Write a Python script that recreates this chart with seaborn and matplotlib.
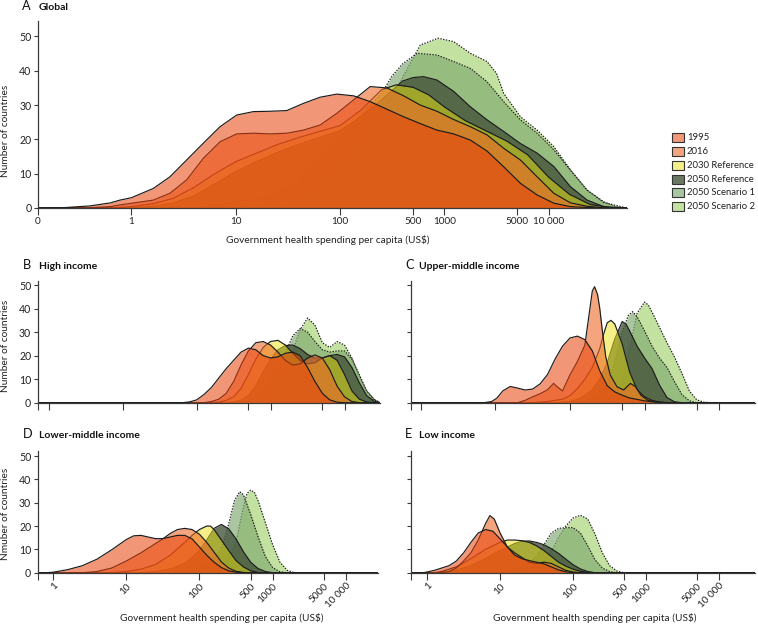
import numpy as np
import pandas as pd
import matplotlib
matplotlib.use("Agg")
import matplotlib.pyplot as plt
from matplotlib.patches import Rectangle
import matplotlib.ticker as mticker
import seaborn as sns

sns.set_theme(style="ticks")
plt.rcParams['font.family'] = ['Lato', 'DejaVu Sans']

# ---------------- data: (log10 spending per capita, number of countries) ----------------
SERIES = ["1995", "2016", "2030 Reference", "2050 Reference", "2050 Scenario 1", "2050 Scenario 2"]

A_1995 = [(-0.9, 0), (-0.7, 0), (-0.6, 0.2), (-0.4, 0.6), (-0.2, 1.5), (-0.11, 2.3), (0.0, 3.0), (0.21, 5.7),
          (0.37, 9.1), (0.53, 14.0), (0.69, 18.9), (0.85, 23.7), (1.01, 27.1), (1.17, 28.1), (1.33, 28.2),
          (1.49, 28.4), (1.65, 30.5), (1.81, 32.3), (1.97, 33.2), (2.13, 32.7), (2.29, 31.0), (2.45, 28.8),
          (2.61, 26.6), (2.77, 24.6), (2.93, 22.7), (3.09, 21.6), (3.25, 19.8), (3.41, 16.6), (3.57, 12.0),
          (3.73, 7.2), (3.89, 3.8), (4.05, 1.4), (4.21, 0.4), (4.4, 0.1), (4.6, 0), (4.75, 0)]
A_2016 = [(-0.9, 0), (-0.5, 0), (-0.4, 0.1), (-0.2, 0.4), (-0.11, 0.9), (0.21, 2.3), (0.37, 4.3), (0.53, 8.2),
          (0.69, 14.5), (0.85, 19.3), (1.01, 21.6), (1.17, 21.8), (1.33, 21.6), (1.49, 21.8), (1.65, 22.7),
          (1.81, 24.2), (1.97, 27.6), (2.13, 31.5), (2.29, 35.4), (2.45, 35.0), (2.61, 32.7), (2.77, 30.0),
          (2.93, 28.2), (3.09, 25.8), (3.25, 23.7), (3.41, 21.3), (3.57, 17.4), (3.73, 14.0), (3.89, 9.1),
          (4.05, 4.3), (4.21, 1.5), (4.37, 0.5), (4.55, 0), (4.75, 0)]
A_2030 = [(-0.9, 0), (-0.2, 0), (0.0, 0.4), (0.2, 1.2), (0.4, 2.8), (0.6, 6.0), (0.8, 10.0), (1.0, 13.5), (1.2, 16.0),
          (1.4, 18.5), (1.6, 20.5), (1.8, 22.3), (2.0, 24.0), (2.2, 28.5), (2.4, 34.5), (2.54, 35.9), (2.7, 35.2),
          (2.85, 33.0), (3.0, 29.5), (3.2, 25.5), (3.4, 22.5), (3.6, 19.5), (3.8, 15.5), (4.0, 9.0), (4.2, 4.0),
          (4.4, 1.0), (4.6, 0.1), (4.75, 0)]
A_2050 = [(-0.9, 0), (0.0, 0), (0.2, 0.5), (0.4, 1.5), (0.6, 3.5), (0.8, 7.0), (1.0, 10.6), (1.2, 13.5), (1.4, 16.2),
          (1.6, 18.5), (1.8, 20.5), (2.0, 22.5), (2.2, 26.5), (2.4, 31.5), (2.6, 37.0), (2.7, 38.0), (2.8, 38.3),
          (2.93, 37.3), (3.09, 34.0), (3.25, 29.5), (3.41, 25.7), (3.57, 22.3), (3.73, 18.8), (3.89, 16.0),
          (4.05, 12.1), (4.21, 6.2), (4.37, 2.3), (4.53, 0.4), (4.75, 0)]
A_S1 = [(-0.9, 0), (0.4, 0), (0.6, 0.2), (0.8, 0.8), (1.0, 1.8), (1.2, 2.8), (1.4, 4.3), (1.6, 7.5), (1.8, 14.0),
        (2.0, 20.8), (2.2, 27.0), (2.4, 33.5), (2.5, 38.5), (2.6, 42.0), (2.74, 45.1), (2.93, 44.6), (3.09, 42.7),
        (3.25, 40.7), (3.41, 36.8), (3.57, 31.0), (3.73, 25.7), (3.89, 21.8), (4.05, 17.0), (4.21, 11.0),
        (4.37, 5.2), (4.53, 1.6), (4.75, 0)]
A_S2 = [(-0.9, 0), (0.8, 0), (1.0, 0.3), (1.2, 0.8), (1.4, 1.6), (1.6, 3.2), (1.8, 6.2), (2.0, 12.0), (2.2, 20.0),
        (2.4, 27.0), (2.6, 38.0), (2.77, 47.5), (2.94, 49.5), (3.09, 48.5), (3.25, 45.1), (3.41, 42.7),
        (3.5, 39.3), (3.57, 33.4), (3.73, 26.6), (3.89, 22.7), (4.05, 17.9), (4.21, 11.1), (4.37, 5.2),
        (4.53, 1.8), (4.65, 0.3), (4.75, 0)]

B_1995 = [(-0.15, 0), (1.8, 0), (1.9, 0.3), (2.0, 1.2), (2.1, 3.5), (2.2, 6.5), (2.3, 10.5), (2.4, 14.5), (2.5, 18.0),
          (2.6, 21.5), (2.7, 23.2), (2.8, 22.5), (2.9, 20.0), (3.0, 19.0), (3.1, 19.5), (3.2, 21.0), (3.3, 21.5),
          (3.4, 20.0), (3.5, 15.0), (3.6, 9.0), (3.7, 4.0), (3.8, 1.2), (3.9, 0.2), (4.0, 0), (4.48, 0)]
B_2016 = [(-0.15, 0), (2.1, 0), (2.2, 0.5), (2.3, 1.5), (2.4, 4.0), (2.5, 9.0), (2.6, 16.0), (2.7, 22.0), (2.8, 25.5),
          (2.9, 26.0), (3.0, 24.5), (3.1, 21.5), (3.2, 18.0), (3.3, 16.0), (3.4, 16.5), (3.5, 19.0), (3.6, 20.3),
          (3.7, 19.0), (3.8, 14.0), (3.9, 7.0), (4.0, 2.5), (4.1, 0.5), (4.2, 0), (4.48, 0)]
B_2030 = [(-0.15, 0), (2.2, 0), (2.3, 0.2), (2.4, 1.0), (2.5, 2.5), (2.6, 6.0), (2.7, 12.0), (2.8, 18.5), (2.9, 23.5),
          (3.0, 26.0), (3.1, 26.5), (3.2, 24.5), (3.3, 21.0), (3.4, 18.0), (3.5, 16.5), (3.6, 17.0), (3.7, 19.0),
          (3.8, 20.0), (3.9, 18.0), (4.0, 12.0), (4.1, 5.0), (4.2, 1.5), (4.3, 0.3), (4.4, 0), (4.48, 0)]
B_2050 = [(-0.15, 0), (2.4, 0), (2.5, 0.3), (2.6, 1.0), (2.7, 3.0), (2.8, 7.0), (2.9, 13.0), (3.0, 18.5), (3.1, 22.5),
          (3.2, 24.3), (3.3, 24.5), (3.4, 23.0), (3.5, 20.5), (3.6, 19.0), (3.7, 19.0), (3.8, 20.0), (3.9, 20.5),
          (4.0, 19.5), (4.1, 15.0), (4.2, 8.5), (4.3, 3.0), (4.4, 0.6), (4.48, 0)]
B_S1 = [(-0.15, 0), (2.5, 0), (2.6, 0.3), (2.7, 1.0), (2.8, 3.0), (2.9, 6.0), (3.0, 10.0), (3.1, 15.0), (3.2, 21.0),
        (3.3, 28.5), (3.4, 31.5), (3.5, 30.0), (3.6, 26.0), (3.7, 22.5), (3.8, 21.5), (3.9, 22.0), (4.0, 22.0),
        (4.1, 18.5), (4.2, 12.0), (4.3, 5.0), (4.4, 1.2), (4.48, 0)]
B_S2 = [(-0.15, 0), (2.6, 0), (2.7, 0.2), (2.8, 1.0), (2.9, 2.5), (3.0, 5.0), (3.1, 9.0), (3.2, 14.0), (3.3, 22.0),
        (3.4, 31.0), (3.5, 36.0), (3.6, 33.0), (3.7, 25.5), (3.8, 23.5), (3.9, 26.0), (4.0, 24.5), (4.1, 19.0),
        (4.2, 11.0), (4.3, 5.0), (4.4, 1.5), (4.48, 0)]

C_1995 = [(-0.13, 0), (0.85, 0), (0.95, 0.5), (1.02, 1.9), (1.1, 5.0), (1.2, 6.9), (1.3, 6.2), (1.4, 5.4), (1.5, 5.8),
          (1.6, 8.0), (1.7, 12.0), (1.8, 18.5), (1.9, 24.0), (2.0, 27.5), (2.1, 28.3), (2.2, 26.8), (2.3, 22.0),
          (2.4, 13.5), (2.5, 7.2), (2.6, 4.6), (2.7, 3.2), (2.8, 2.0), (2.9, 1.4), (3.0, 0.8), (3.1, 0.4),
          (3.2, 0.1), (3.3, 0), (4.48, 0)]
C_2016 = [(-0.13, 0), (1.3, 0), (1.4, 1.0), (1.5, 2.5), (1.6, 3.8), (1.7, 5.5), (1.78, 8.2), (1.84, 6.5), (1.9, 5.0),
          (2.0, 11.8), (2.1, 17.5), (2.2, 24.5), (2.25, 36.0), (2.3, 47.5), (2.33, 49.3), (2.37, 46.0), (2.4, 40.0),
          (2.44, 29.0), (2.48, 19.5), (2.54, 11.8), (2.63, 6.8), (2.72, 5.4), (2.81, 8.2), (2.88, 6.8), (2.95, 3.2),
          (3.04, 1.1), (3.15, 0.3), (3.3, 0), (4.48, 0)]
C_2030 = [(-0.13, 0), (1.5, 0), (1.7, 0.5), (1.9, 1.5), (2.0, 3.0), (2.1, 6.0), (2.2, 10.0), (2.3, 15.0), (2.4, 23.0),
          (2.45, 29.0), (2.5, 34.0), (2.55, 35.0), (2.6, 33.5), (2.7, 25.0), (2.8, 13.0), (2.9, 5.5), (3.0, 2.5),
          (3.1, 1.0), (3.2, 0.3), (3.3, 0), (4.48, 0)]
C_2050 = [(-0.13, 0), (1.8, 0), (2.0, 0.5), (2.1, 1.5), (2.2, 3.0), (2.3, 5.5), (2.4, 10.0), (2.5, 17.0), (2.6, 27.0),
          (2.7, 34.5), (2.75, 33.5), (2.8, 30.5), (2.9, 24.0), (3.0, 19.0), (3.1, 14.5), (3.2, 7.5), (3.3, 2.2),
          (3.4, 0.4), (3.5, 0), (4.48, 0)]
C_S1 = [(-0.13, 0), (2.0, 0), (2.2, 0.5), (2.4, 3.0), (2.5, 8.0), (2.6, 17.0), (2.7, 30.0), (2.78, 37.0), (2.84, 38.7),
        (2.9, 36.5), (3.0, 30.5), (3.1, 24.0), (3.2, 19.0), (3.3, 15.0), (3.4, 9.0), (3.5, 3.5), (3.6, 0.8),
        (3.7, 0), (4.48, 0)]
C_S2 = [(-0.13, 0), (2.2, 0), (2.4, 0.5), (2.6, 3.5), (2.7, 9.0), (2.8, 23.0), (2.9, 38.0), (3.0, 42.8), (3.05, 41.5),
        (3.1, 38.5), (3.2, 32.0), (3.3, 25.5), (3.4, 19.5), (3.5, 12.5), (3.6, 5.0), (3.7, 1.2), (3.8, 0.2),
        (3.9, 0), (4.48, 0)]

D_1995 = [(-0.21, 0), (-0.1, 0), (0.0, 0.2), (0.2, 1.3), (0.4, 3.0), (0.6, 5.8), (0.8, 9.8), (1.0, 14.2), (1.1, 15.8),
          (1.2, 16.0), (1.3, 15.3), (1.4, 14.6), (1.5, 14.6), (1.6, 15.3), (1.7, 16.0), (1.8, 16.0), (1.9, 14.5),
          (2.0, 11.0), (2.1, 7.5), (2.2, 4.5), (2.3, 2.2), (2.4, 0.8), (2.5, 0.2), (2.6, 0), (4.44, 0)]
D_2016 = [(-0.21, 0), (0.4, 0), (0.6, 0.5), (0.8, 2.0), (1.0, 5.0), (1.2, 8.5), (1.4, 12.5), (1.5, 14.5), (1.6, 16.8),
          (1.7, 18.5), (1.8, 19.0), (1.9, 18.5), (2.0, 16.5), (2.1, 13.0), (2.2, 8.8), (2.3, 4.6), (2.4, 2.0),
          (2.5, 0.6), (2.6, 0.1), (2.7, 0), (4.44, 0)]
D_2030 = [(-0.21, 0), (0.8, 0), (1.0, 0.5), (1.2, 1.5), (1.4, 3.5), (1.6, 7.5), (1.8, 13.0), (1.9, 16.0), (2.0, 18.5),
          (2.1, 20.0), (2.15, 20.0), (2.2, 18.5), (2.3, 14.0), (2.4, 9.5), (2.5, 5.2), (2.6, 2.5), (2.7, 0.8),
          (2.8, 0.1), (2.9, 0), (4.44, 0)]
D_2050 = [(-0.21, 0), (1.2, 0), (1.4, 0.5), (1.6, 1.5), (1.8, 4.0), (1.9, 6.5), (2.0, 9.5), (2.1, 14.0), (2.2, 19.0),
          (2.3, 20.7), (2.4, 18.8), (2.5, 14.5), (2.6, 9.0), (2.7, 4.5), (2.8, 1.8), (2.9, 0.5), (3.0, 0), (4.44, 0)]
D_S1 = [(-0.21, 0), (1.6, 0), (1.8, 0.5), (2.0, 2.0), (2.1, 4.0), (2.2, 6.5), (2.3, 10.0), (2.4, 21.0), (2.48, 31.0),
        (2.55, 34.7), (2.6, 33.5), (2.7, 25.0), (2.8, 15.5), (2.9, 7.0), (3.0, 2.2), (3.1, 0.4), (3.2, 0), (4.44, 0)]
D_S2 = [(-0.21, 0), (1.8, 0), (2.0, 0.5), (2.2, 2.0), (2.3, 3.5), (2.4, 5.5), (2.5, 13.0), (2.6, 28.0), (2.65, 34.0),
        (2.7, 35.4), (2.75, 34.5), (2.8, 31.0), (2.9, 21.5), (3.0, 12.0), (3.1, 4.5), (3.2, 1.0), (3.3, 0), (4.44, 0)]

E_1995 = [(-0.22, 0), (-0.05, 0), (0.0, 0.3), (0.1, 1.0), (0.2, 2.0), (0.3, 3.0), (0.4, 5.0), (0.5, 8.5), (0.6, 13.0),
          (0.7, 17.0), (0.8, 18.5), (0.9, 17.8), (1.0, 14.5), (1.1, 11.0), (1.2, 7.5), (1.3, 6.0), (1.4, 5.2),
          (1.5, 4.5), (1.6, 3.8), (1.7, 2.5), (1.8, 1.2), (1.9, 0.4), (2.0, 0), (4.49, 0)]
E_2016 = [(-0.22, 0), (0.2, 0), (0.3, 0.5), (0.4, 2.0), (0.5, 5.0), (0.6, 8.5), (0.7, 14.0), (0.8, 21.0), (0.86, 24.5),
          (0.92, 23.0), (1.0, 17.0), (1.1, 11.0), (1.2, 8.5), (1.3, 6.5), (1.4, 4.5), (1.5, 4.0), (1.6, 4.5),
          (1.7, 4.0), (1.8, 2.5), (1.9, 1.0), (2.0, 0.3), (2.1, 0), (4.49, 0)]
E_2030 = [(-0.22, 0), (0.1, 0), (0.2, 0.5), (0.4, 2.5), (0.6, 6.0), (0.8, 10.0), (1.0, 13.0), (1.1, 14.0), (1.2, 14.0),
          (1.3, 13.7), (1.4, 13.0), (1.5, 11.5), (1.6, 9.5), (1.7, 7.0), (1.8, 4.5), (1.9, 2.8), (2.0, 1.5),
          (2.1, 0.6), (2.2, 0.1), (2.3, 0), (4.49, 0)]
E_2050 = [(-0.22, 0), (0.2, 0), (0.4, 1.0), (0.6, 3.0), (0.8, 6.0), (1.0, 9.5), (1.2, 12.5), (1.3, 13.5), (1.4, 13.6),
          (1.5, 13.0), (1.6, 12.0), (1.7, 10.3), (1.8, 8.3), (1.9, 5.8), (2.0, 3.4), (2.1, 1.6), (2.2, 0.5),
          (2.3, 0), (4.49, 0)]
E_S1 = [(-0.22, 0), (0.8, 0), (1.0, 0.5), (1.2, 1.5), (1.4, 4.0), (1.5, 7.0), (1.6, 12.0), (1.7, 17.0), (1.8, 19.0),
        (1.9, 19.3), (2.0, 19.3), (2.1, 17.0), (2.2, 11.5), (2.3, 5.5), (2.4, 2.0), (2.5, 0.5), (2.6, 0), (4.49, 0)]
E_S2 = [(-0.22, 0), (1.0, 0), (1.2, 0.5), (1.4, 1.5), (1.6, 5.0), (1.7, 9.0), (1.8, 15.0), (1.9, 20.0), (2.0, 23.5),
        (2.1, 24.6), (2.2, 23.0), (2.3, 16.5), (2.4, 8.5), (2.5, 3.0), (2.6, 0.7), (2.7, 0), (4.49, 0)]

XTICK_VALUES = [1, 10, 100, 500, 1000, 5000, 10000]
XTICK_LABELS = ["1", "10", "100", "500", "1000", "5000", "10 000"]
YTICKS = [0, 10, 20, 30, 40, 50]

# ---------------- style ----------------
COLORS = ["#E9400A", "#EE6926", "#EBE10F", "#45553C", "#80AA71", "#9BCD61"]
ALPHAS = [0.55, 0.6, 0.5, 0.8, 0.67, 0.6]
LSTYLES = ["-", "-", "-", "-", (0, (1.2, 1.2)), (0, (1.2, 1.2))]
EDGE = "#1c1c1c"
AXC = "#3a3a3a"
FS = 7.2

W, H = 758, 624
fig = plt.figure(figsize=(W / 100, H / 100), dpi=100)


def add_ax(l, t, r, b):
    return fig.add_axes([l / W, 1 - b / H, (r - l) / W, (b - t) / H])


def draw_panel(ax, series, xlim_log, ytop, ylabels=True, xlabels=None, zero_label=False, rot=0):
    for i in range(len(series) - 1, -1, -1):
        arr = np.array(series[i], dtype=float)
        df = pd.DataFrame({"spend": 10 ** arr[:, 0], "n": arr[:, 1]})
        z = 10 + (len(series) - i) * 2
        ax.fill_between(df["spend"], 0, df["n"], color=COLORS[i], alpha=ALPHAS[i], lw=0, zorder=z)
        sns.lineplot(data=df, x="spend", y="n", ax=ax, color=EDGE, lw=0.85, linestyle=LSTYLES[i],
                     sort=False, estimator=None, zorder=z + 1, legend=False)
    ax.set_xscale("log")
    left = 10 ** xlim_log[0]
    ax.set_xlim(left, 10 ** xlim_log[1])
    ax.set_ylim(0, ytop)
    ax.set_xlabel("")
    ax.set_ylabel("")
    ax.xaxis.set_minor_locator(mticker.NullLocator())
    ticks = [left] + XTICK_VALUES
    ax.set_xticks(ticks)
    if xlabels:
        labs = (["0"] if zero_label else [""]) + XTICK_LABELS
        if rot:
            ax.set_xticklabels(labs, rotation=rot, ha="right", rotation_mode="anchor")
        else:
            ax.set_xticklabels(labs)
    else:
        ax.set_xticklabels([""] * len(ticks))
    ax.set_yticks(YTICKS)
    if not ylabels:
        ax.set_yticklabels([""] * len(YTICKS))
    for s in ["top", "right"]:
        ax.spines[s].set_visible(False)
    for s in ["left", "bottom"]:
        ax.spines[s].set_color(AXC)
        ax.spines[s].set_linewidth(0.9)
        ax.spines[s].set_zorder(40)
    ax.tick_params(axis="x", length=4.8, width=0.8, color=AXC, labelsize=FS, pad=1.5, labelcolor="#222222")
    ax.tick_params(axis="y", length=3.2, width=0.8, color=AXC, labelsize=7.6, pad=1.5, labelcolor="#222222")
    ax.set_facecolor("none")
    ax.grid(False)


axA = add_ax(38, 20.7, 627, 208)
draw_panel(axA, [A_1995, A_2016, A_2030, A_2050, A_S1, A_S2], (-0.8955, 4.752), 54.6,
           ylabels=True, xlabels=True, zero_label=True)
axB = add_ax(37.7, 280.7, 380, 402.7)
draw_panel(axB, [B_1995, B_2016, B_2030, B_2050, B_S1, B_S2], (-0.15, 4.48), 51.85, ylabels=True, xlabels=False)
axC = add_ax(411, 280.7, 755, 402.7)
draw_panel(axC, [C_1995, C_2016, C_2030, C_2050, C_S1, C_S2], (-0.13, 4.48), 51.85, ylabels=False, xlabels=False)
axD = add_ax(37.7, 450.7, 378, 572.7)
draw_panel(axD, [D_1995, D_2016, D_2030, D_2050, D_S1, D_S2], (-0.21, 4.44), 52.3, ylabels=True, xlabels=True, rot=45)
axE = add_ax(411, 450.7, 755, 572.7)
draw_panel(axE, [E_1995, E_2016, E_2030, E_2050, E_S1, E_S2], (-0.22, 4.49), 52.3, ylabels=False, xlabels=True, rot=45)


def ftext(x, y, s, **kw):
    fig.text(x / W, 1 - y / H, s, **kw)


# panel titles
for letter, title, lx, tx, by in [("A", "Global", 21.5, 39, 9.5), ("B", "High income", 22.7, 39, 268.8),
                                   ("C", "Upper-middle income", 405, 419.3, 268.8),
                                   ("D", "Lower-middle income", 22.7, 39, 438.5), ("E", "Low income", 405, 419, 438.5)]:
    ftext(lx, by, letter, fontsize=9.2, color="#111111", va="baseline", ha="left")
    ftext(tx, by, title, fontsize=7.5, fontweight="bold", color="#111111", va="baseline", ha="left")

# axis labels
XL = "Government health spending per capita (US$)"
ftext(328, 240, XL, fontsize=7.3, ha="center", va="center", color="#222222")
ftext(221.7, 618, XL, fontsize=7.3, ha="center", va="center", color="#222222")
ftext(595, 618, XL, fontsize=7.3, ha="center", va="center", color="#222222")
ftext(6, 131, "Number of countries", fontsize=7.3, rotation=90, ha="center", va="center", color="#222222")
ftext(5.5, 346, "Number of countries", fontsize=7.3, rotation=90, ha="center", va="center", color="#222222")
ftext(5.5, 514, "Nmuber of countries", fontsize=7.3, rotation=90, ha="center", va="center", color="#222222")

# legend
for i, name in enumerate(SERIES):
    yc = 137.5 + i * 13.85
    fig.add_artist(Rectangle((672 / W, 1 - (yc + 4.5) / H), 12 / W, 9 / H, transform=fig.transFigure,
                             facecolor=COLORS[i], alpha=ALPHAS[i], edgecolor="none"))
    fig.add_artist(Rectangle((672 / W, 1 - (yc + 4.5) / H), 12 / W, 9 / H, transform=fig.transFigure,
                             facecolor="none", edgecolor="#333333", lw=0.8))
    ftext(687, yc, name, fontsize=6.8, ha="left", va="center", color="#222222")

fig.savefig("out.png", dpi=100)
